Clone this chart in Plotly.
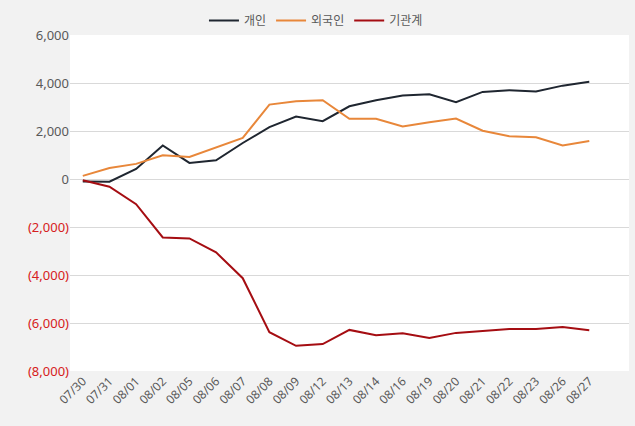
import plotly.graph_objects as go

dates = ["07/30", "07/31", "08/01", "08/02", "08/05", "08/06", "08/07", "08/08", "08/09", "08/12",
         "08/13", "08/14", "08/16", "08/19", "08/20", "08/21", "08/22", "08/23", "08/26", "08/27"]
individual = [-100, -110, 420, 1400, 670, 780, 1500, 2160, 2600, 2410,
              3030, 3280, 3475, 3530, 3200, 3630, 3700, 3650, 3890, 4055]
foreign = [130, 460, 630, 990, 920, 1330, 1710, 3100, 3240, 3280,
           2510, 2510, 2190, 2360, 2520, 2010, 1780, 1740, 1400, 1580]
institution = [-50, -320, -1050, -2435, -2477, -3057, -4134, -6384, -6950, -6880,
               -6288, -6508, -6425, -6620, -6412, -6330, -6247, -6247, -6164, -6300]

names = ["개인", "외국인", "기관계"]
colors = ["#1F2630", "#E8873A", "#A50D12"]
series = [individual, foreign, institution]

yticks = [6000, 4000, 2000, 0, -2000, -4000, -6000, -8000]
ylabels = ["6,000", "4,000", "2,000", "0", "(2,000)", "(4,000)", "(6,000)", "(8,000)"]
yticktext = [f'<span style="color:#D62020">{t}</span>' if v < 0 else t
             for v, t in zip(yticks, ylabels)]

fig = go.Figure()
for n, c, s in zip(names, colors, series):
    fig.add_trace(go.Scatter(x=dates, y=s, name=n, mode="lines",
                             line=dict(color=c, width=2)))

fig.update_layout(
    width=635, height=426,
    paper_bgcolor="#F2F2F2", plot_bgcolor="#FFFFFF",
    margin=dict(l=70, r=6, t=33, b=55),
    font=dict(family="Noto Sans, Noto Sans CJK KR, sans-serif", color="#595959", size=12),
    legend=dict(orientation="h", x=0.44, xanchor="center", y=1.0, yanchor="bottom",
                font=dict(size=12, color="#595959"), bgcolor="rgba(0,0,0,0)",
                itemwidth=30, tracegroupgap=0),
    showlegend=True,
)
fig.update_xaxes(type="category", range=[-0.48, 20.49], tickangle=-45,
                 showgrid=False, showline=False, ticks="",
                 tickfont=dict(size=12, color="#595959"))
fig.update_yaxes(range=[-8000, 6000], tickvals=yticks, ticktext=yticktext,
                 showgrid=True, gridcolor="#D9D9D9", gridwidth=1,
                 zeroline=False, showline=False, ticks="",
                 tickfont=dict(size=13, color="#595959"))

fig.write_html("out.html")
